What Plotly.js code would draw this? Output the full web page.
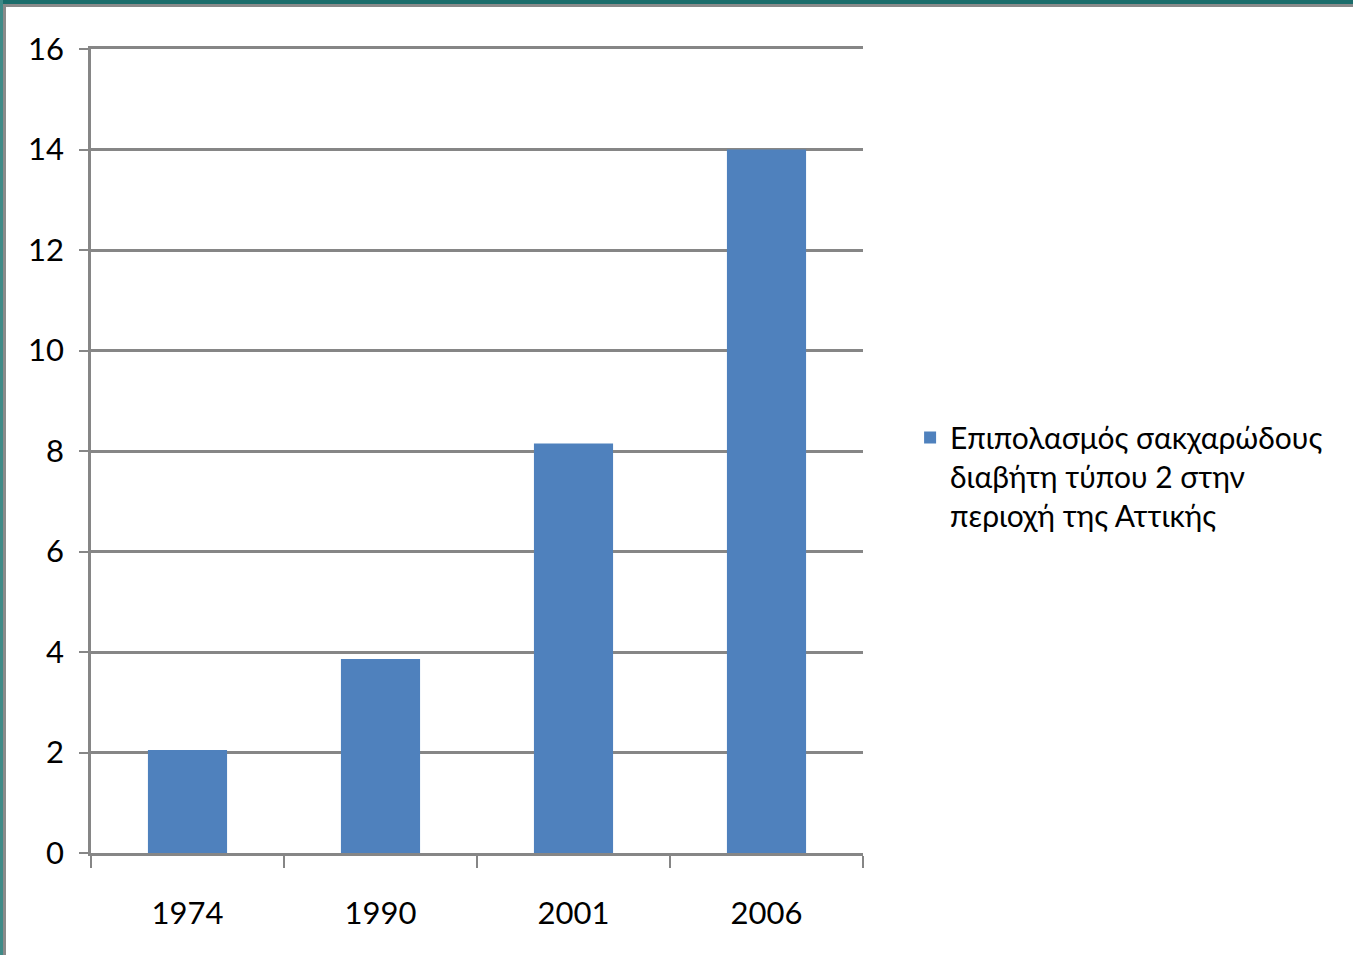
<!DOCTYPE html>
<html>
<head>
<meta charset="utf-8">
<script src="https://cdn.plot.ly/plotly-3.0.1.min.js"></script>
<style>
html,body{margin:0;padding:0;background:#fff;overflow:hidden;}
#chart{position:absolute;left:0;top:0;width:1353px;height:955px;}
.bt{position:absolute;left:0;top:0;width:1353px;height:4px;background:#1b6d6b;}
.bt2{position:absolute;left:0;top:4px;width:1353px;height:3px;background:#8a8a8a;}
.bl{position:absolute;left:0;top:0;width:3px;height:955px;background:#3f8a87;}
.bl2{position:absolute;left:3px;top:4px;width:3px;height:951px;background:#8a8a8a;}
</style>
</head>
<body>
<div id="chart"></div>
<div class="bt"></div><div class="bt2"></div><div class="bl"></div><div class="bl2"></div>
<script>
const categories = ["1974", "1990", "2001", "2006"];
const prevalence = [2.05, 3.86, 8.15, 14.0];
const seriesName = "Επιπολασμός σακχαρώδους<br>διαβήτη τύπου 2 στην<br>περιοχή της Αττικής";
const yTicks = [0, 2, 4, 6, 8, 10, 12, 14, 16];

const font = "Lato, 'Open Sans', sans-serif";
const grey = "#868686";

Plotly.newPlot("chart", [{
  type: "bar",
  x: categories,
  y: prevalence,
  name: seriesName,
  marker: {color: "#4f81bd"},
  hoverinfo: "x+y"
}], {
  width: 1353, height: 955,
  paper_bgcolor: "#ffffff", plot_bgcolor: "#ffffff",
  margin: {l: 91, r: 490, t: 49, b: 102},
  bargap: 0.59,
  showlegend: true,
  font: {family: font, color: "#000", size: 31},
  xaxis: {
    type: "category",
    tickson: "boundaries",
    ticks: "outside", ticklen: 12, tickwidth: 2, tickcolor: grey,
    showline: true, linecolor: grey, linewidth: 2.5, mirror: true,
    showgrid: false,
    tickfont: {family: font, size: 31, color: "#000"},
    ticklabelstandoff: 31
  },
  yaxis: {
    range: [0, 16],
    tickvals: yTicks,
    ticks: "outside", ticklen: 9, tickwidth: 2, tickcolor: grey,
    showline: true, linecolor: grey, linewidth: 2.5,
    showgrid: true, gridcolor: grey, gridwidth: 2.5,
    zeroline: false,
    tickfont: {family: font, size: 31, color: "#000"},
    ticklabelstandoff: 9
  },
  legend: {
    x: 1.061, xanchor: "left", y: 0.549, yanchor: "top",
    valign: "top",
    font: {family: font, size: 30, color: "#000"},
    bgcolor: "rgba(0,0,0,0)", itemwidth: 30
  }
}, {displayModeBar: false});
</script>
</body>
</html>
